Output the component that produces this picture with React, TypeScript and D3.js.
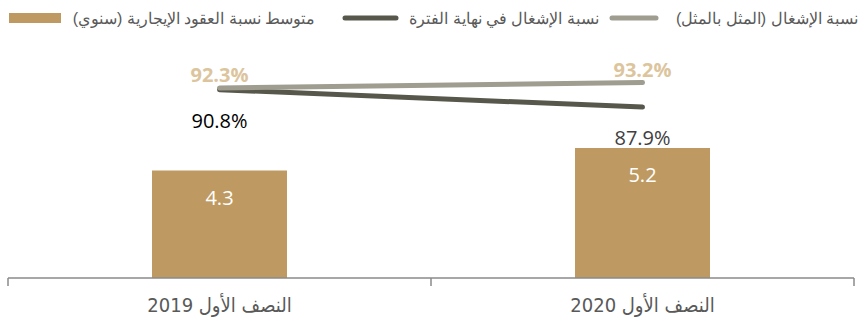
import React from 'react';
import * as d3 from 'd3';

const categories = ['النصف الأول 2019', 'النصف الأول 2020'];
const leaseYears = [4.3, 5.2];
const occupancyEnd = [90.8, 87.9];
const occupancyLfl = [92.3, 93.2];
const barLabels = ['4.3', '5.2'];
const endLabels = ['90.8%', '87.9%'];
const lflLabels = ['92.3%', '93.2%'];
const legendLabels = [
  'متوسط نسبة العقود الإيجارية (سنوي)',
  'نسبة الإشغال في نهاية الفترة',
  'نسبة الإشغال (المثل بالمثل)',
];

const W = 863;
const H = 325;
const GOLD = '#be9a62';
const DARK = '#57584b';
const GREY = '#9e9d90';
const TAN = '#dcc59d';

export default function App() {
  const x = d3.scaleBand<string>().domain(categories).range([8, 854]).paddingInner(0).paddingOuter(0);
  const yBar = d3.scaleLinear().domain([0, 10]).range([278, 28]);
  const yLfl = d3.scaleLinear().domain([80, 100]).range([161.8, 41.8]);
  const yEnd = d3.scaleLinear().domain([80, 100]).range([154.5, 34.5]);
  const barW = 135;
  const cx = (c: string) => (x(c) as number) + x.bandwidth() / 2;

  const line = d3.line<[number, number]>().x((d) => d[0]).y((d) => d[1]);
  const lflPts: [number, number][] = categories.map((c, i) => [cx(c), yLfl(occupancyLfl[i])]);
  const endPts: [number, number][] = categories.map((c, i) => [cx(c), yEnd(occupancyEnd[i])]);

  const tickXs = [...categories.map((c) => x(c) as number), x.range()[1]];
  const axisY = yBar(0);

  const numFont = "'Open Sans', sans-serif";
  const legFont = "'Liberation Sans', Arial, sans-serif";

  return (
    <svg width={W} height={H} style={{ position: 'absolute', left: 0, top: 0, background: '#fff' }}>
      {/* legend */}
      <g fontFamily={legFont} fontSize={16} fill="#595959">
        <rect x={9} y={13} width={52} height={10} fill={GOLD} />
        <text x={194} y={24} textAnchor="middle" direction="rtl">{legendLabels[0]}</text>
        <line x1={345} x2={396} y1={18} y2={18} stroke={DARK} strokeWidth={5} strokeLinecap="round" />
        <text x={504} y={24} textAnchor="middle" direction="rtl">{legendLabels[1]}</text>
        <line x1={612} x2={656} y1={18} y2={18} stroke={GREY} strokeWidth={5} strokeLinecap="round" />
        <text x={767} y={24} textAnchor="middle" direction="rtl">{legendLabels[2]}</text>
      </g>

      {/* bars */}
      {categories.map((c, i) => (
        <g key={c}>
          <rect x={cx(c) - barW / 2} y={yBar(leaseYears[i])} width={barW} height={axisY - yBar(leaseYears[i])} fill={GOLD} />
          <text x={cx(c)} y={yBar(leaseYears[i]) + 34} textAnchor="middle" fontFamily={numFont} fontSize={20} fill="#fff">
            {barLabels[i]}
          </text>
        </g>
      ))}

      {/* lines */}
      <path d={line(endPts) || ''} fill="none" stroke={DARK} strokeWidth={5} strokeLinecap="round" />
      <path d={line(lflPts) || ''} fill="none" stroke={GREY} strokeWidth={5} strokeLinecap="round" />

      {/* line labels */}
      {categories.map((c, i) => (
        <g key={'l' + c} fontFamily={numFont} fontSize={20} textAnchor="middle">
          <text x={cx(c)} y={yLfl(occupancyLfl[i]) - 6} fill={TAN} fontWeight="bold">{lflLabels[i]}</text>
          <text x={cx(c)} y={yEnd(occupancyEnd[i]) + 38} fill={i === 0 ? '#000' : '#404040'}>{endLabels[i]}</text>
        </g>
      ))}

      {/* axis */}
      <g stroke="#8a8a8a" strokeWidth={1.5}>
        <line x1={x.range()[0]} x2={x.range()[1]} y1={axisY} y2={axisY} />
        {tickXs.map((t, i) => (
          <line key={i} x1={t} x2={t} y1={axisY} y2={axisY + 8} />
        ))}
      </g>
      {categories.map((c) => (
        <text key={'a' + c} x={cx(c)} y={312} textAnchor="middle" fontFamily="'Liberation Sans Narrow', 'DejaVu Sans Condensed', 'Liberation Sans', sans-serif" fontSize={20} fill="#595959">
          {c}
        </text>
      ))}
    </svg>
  );
}
